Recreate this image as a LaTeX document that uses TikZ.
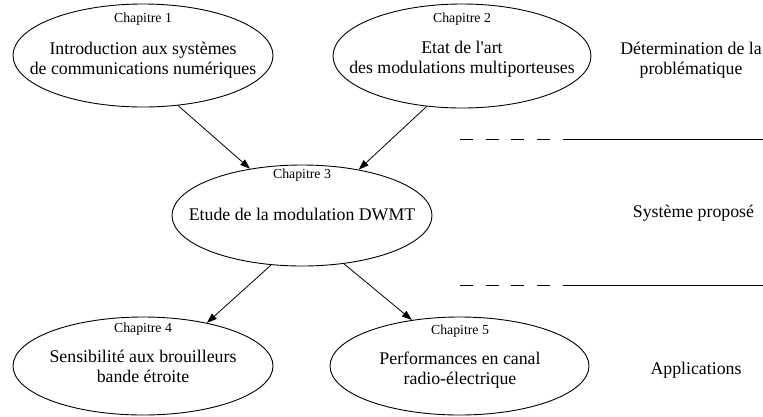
\documentclass[tikz,border=0pt]{standalone}
\usepackage{fontspec}
\setmainfont{Liberation Serif}[Ligatures=TeXOff]
\usetikzlibrary{arrows.meta,shapes.geometric}
\begin{document}
\begin{tikzpicture}[x=1pt,y=-1pt,
  ell/.style={draw, ellipse, line width=0.9pt, inner sep=0pt},
  chap/.style={font=\fontsize{13.8}{16}\selectfont, inner sep=0pt, anchor=base},
  main/.style={font=\fontsize{17.8}{20}\selectfont, align=center, inner sep=0pt},
  arr/.style={-{Triangle[length=10pt,width=7pt]}, line width=0.8pt},
  sepline/.style={line width=0.9pt},
  sepdash/.style={line width=0.9pt, dash pattern=on 13pt off 12.7pt}]
\useasboundingbox (0,0) rectangle (763,416);

% ellipses
\node[ell, minimum width=260pt, minimum height=103pt] (e1) at (143,55.5) {};
\node[ell, minimum width=258pt, minimum height=104pt] (e2) at (462,56) {};
\node[ell, minimum width=260pt, minimum height=101pt] (e3) at (302,215.5) {};
\node[ell, minimum width=260pt, minimum height=98pt] (e4) at (143,366) {};
\node[ell, minimum width=259pt, minimum height=98pt] (e5) at (459.5,366) {};

% chapter labels
\node[chap] (c1) at (143,22) {Chapitre 1};
\node[chap] (c2) at (462,22) {Chapitre 2};
\node[chap] (c3) at (302,178) {Chapitre 3};
\node[chap] (c4) at (143,332) {Chapitre 4};
\node[chap] (c5) at (460,334) {Chapitre 5};

% main texts
\node[main] (t1) at (143,60) {Introduction aux systèmes\\de communications numériques};
\node[main] (t2) at (462,59) {Etat de l'art\\des modulations multiporteuses};
\node[main] (t3) at (302,214) {Etude de la modulation DWMT};
\node[main] (t4) at (143,366.5) {Sensibilité aux brouilleurs\\bande étroite};
\node[main] (t5) at (460,370) {Performances en canal\\radio-électrique};

% right column
\node[main] (r1) at (691,60) {Détermination de la\\problématique};
\node[main] (r2) at (693.5,213) {Système proposé};
\node[main] (r3) at (696,370) {Applications};

% connectors
\draw[arr] (e1.-55) -- (e3.138);
\draw[arr] (e2.235) -- (e3.39);
\draw[arr] (e3.238) -- (e4.34);
\draw[arr] (e3.-49) -- (e5.136);

% separators
\coordinate (s1a) at (460,139);
\coordinate (s1b) at (550,139);
\coordinate (s1c) at (563,139);
\coordinate (s1d) at (763,139);
\coordinate (s2a) at (460,285);
\coordinate (s2b) at (550,285);
\coordinate (s2c) at (563,285);
\coordinate (s2d) at (763,285);
\draw[sepdash] (s1a) -- (s1b);
\draw[sepline] (s1c) -- (s1d);
\draw[sepdash] (s2a) -- (s2b);
\draw[sepline] (s2c) -- (s2d);
\end{tikzpicture}
\end{document}
